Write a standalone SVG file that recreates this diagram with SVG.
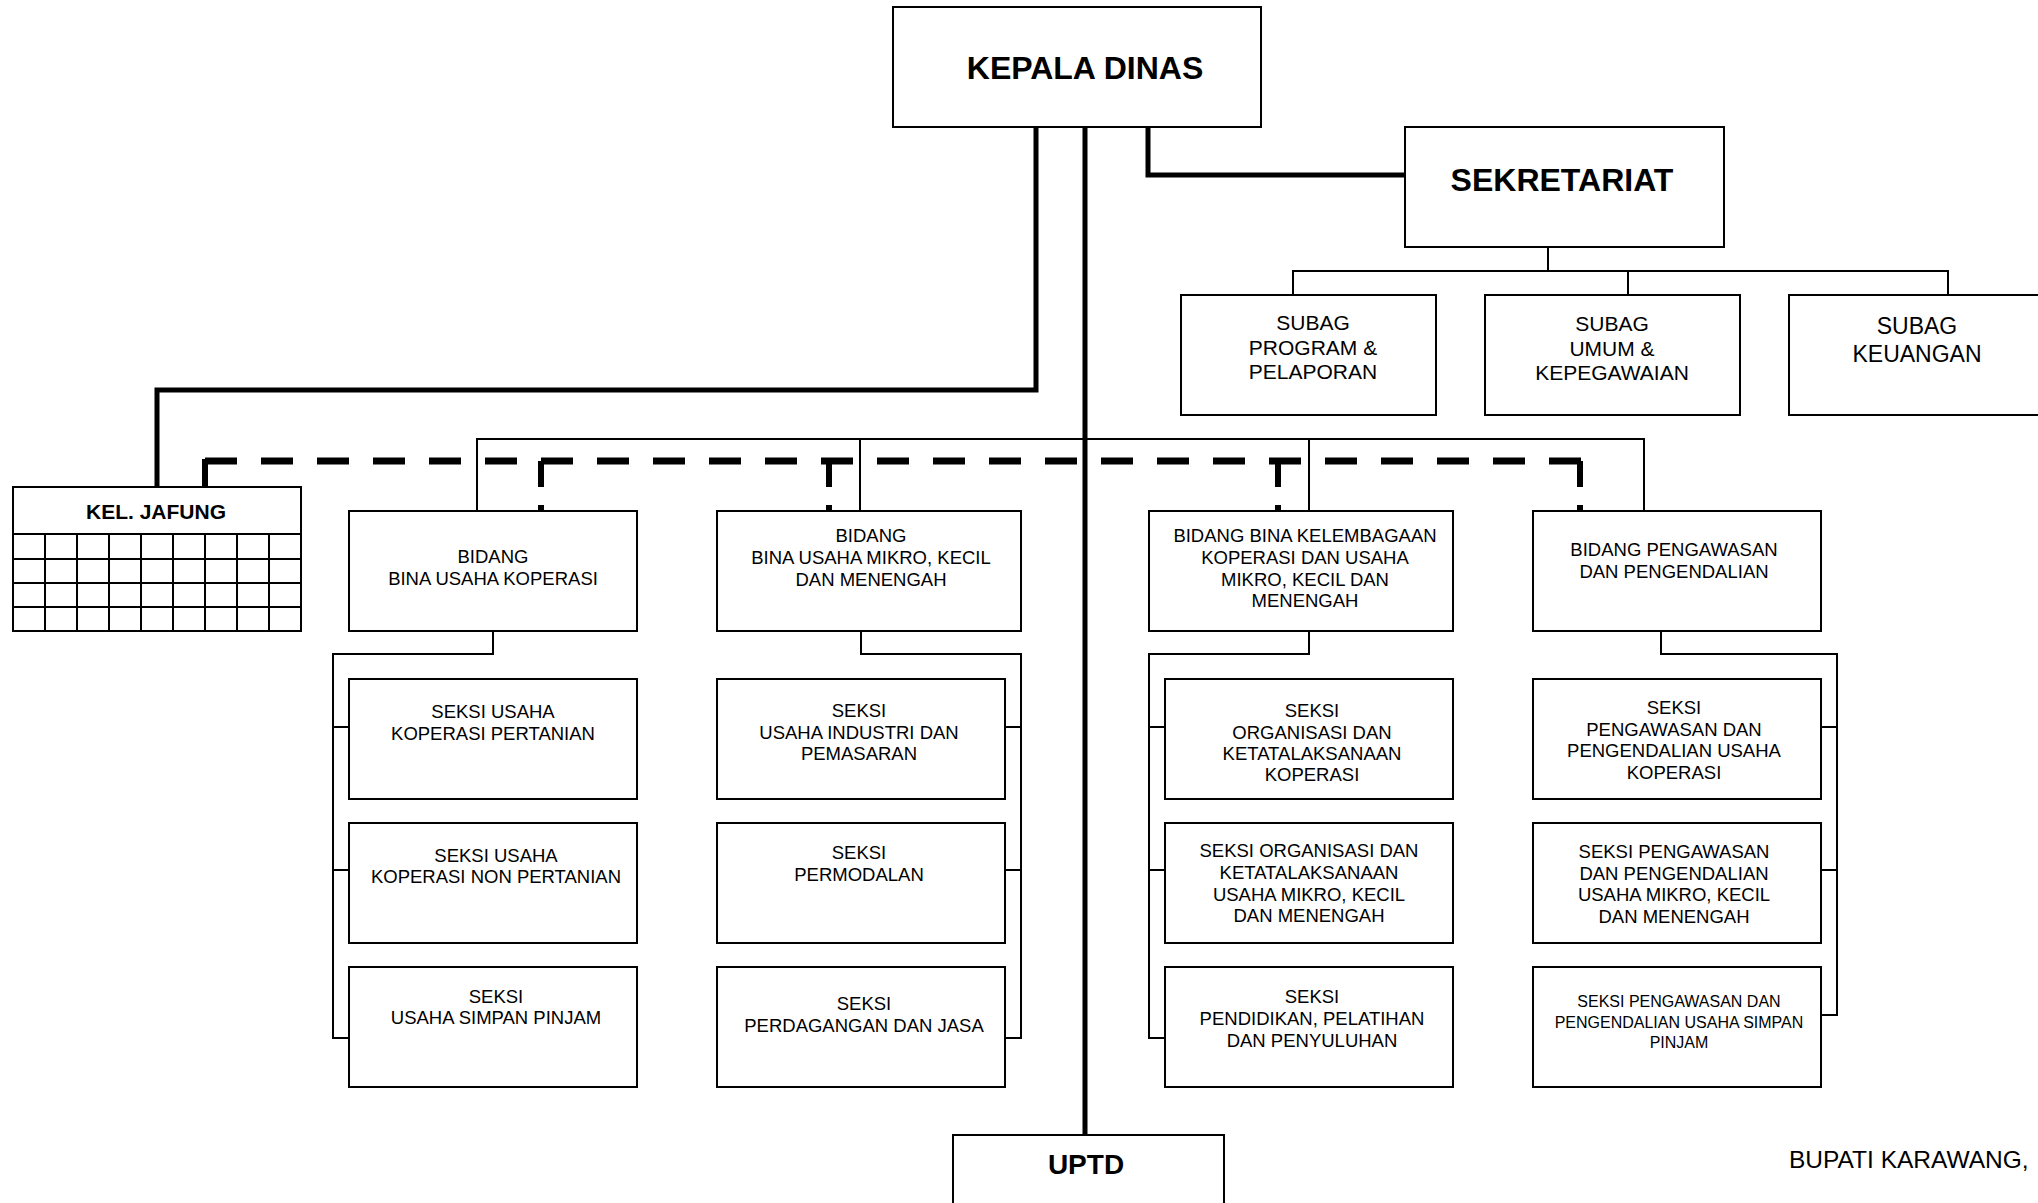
<svg xmlns="http://www.w3.org/2000/svg" width="2038" height="1203" viewBox="0 0 2038 1203">
<style>
text{font-family:"Liberation Sans",Arial,sans-serif;fill:#000;text-anchor:middle}
.b{font-weight:bold}
.box{fill:#fff;stroke:#000;stroke-width:2}
.thin{fill:none;stroke:#000;stroke-width:2}
.thick{fill:none;stroke:#000;stroke-width:5}
.dash{fill:none;stroke:#000;stroke-width:7;stroke-dasharray:32 24}
.vdash{fill:none;stroke:#000;stroke-width:6;stroke-dasharray:26 18}
.s{font-size:18.5px}
.sub{font-size:21px}
</style>
<rect width="2038" height="1203" fill="#fff"/>
<g id="connectors">
<path class="thick" d="M1036,127 V390 H157 V487"/>
<path class="thick" d="M1085,127 V1135"/>
<path class="thick" d="M1148,127 V175 H1405"/>
<path class="thin" d="M1548,247 V271"/>
<path class="thin" d="M1293,295 V271 H1948 V295"/>
<path class="thin" d="M1628,271 V295"/>
<path class="thin" d="M477,511 V439 H1644 V511"/>
<path class="thin" d="M860,439 V511"/>
<path class="thin" d="M1309,439 V511"/>
<path class="dash" d="M205,461 H1581"/>
<path class="thick" d="M205,487 V459" style="stroke-width:6"/>
<path class="vdash" d="M541,461 V511"/>
<path class="vdash" d="M829,461 V511"/>
<path class="vdash" d="M1278,461 V511"/>
<path class="vdash" d="M1580,461 V511"/>
<path class="thin" d="M493,631 V654 H333 V1038 H349 M333,727 H349 M333,870 H349"/>
<path class="thin" d="M861,631 V654 H1021 V1038 H1005 M1021,727 H1005 M1021,870 H1005"/>
<path class="thin" d="M1309,631 V654 H1149 V1038 H1165 M1149,727 H1165 M1149,870 H1165"/>
<path class="thin" d="M1661,631 V654 H1837 V1015 H1821 M1837,727 H1821 M1837,870 H1821"/>
</g>
<g id="kepala-dinas"><rect class="box" x="893" y="7" width="368" height="120"/><text class="b" x="1085" y="79" font-size="32">KEPALA DINAS</text></g>
<g id="sekretariat"><rect class="box" x="1405" y="127" width="319" height="120"/><text class="b" x="1562" y="191" font-size="32">SEKRETARIAT</text></g>
<g id="subag-program"><rect class="box" x="1181" y="295" width="255" height="120"/><text class="sub" x="1313"><tspan x="1313" y="330">SUBAG</tspan><tspan x="1313" y="354.5">PROGRAM &amp;</tspan><tspan x="1313" y="379">PELAPORAN</tspan></text></g>
<g id="subag-umum"><rect class="box" x="1485" y="295" width="255" height="120"/><text class="sub" x="1612"><tspan x="1612" y="331">SUBAG</tspan><tspan x="1612" y="355.5">UMUM &amp;</tspan><tspan x="1612" y="380">KEPEGAWAIAN</tspan></text></g>
<g id="subag-keuangan"><rect class="box" x="1789" y="295" width="260" height="120"/><text font-size="23" x="1917"><tspan x="1917" y="334">SUBAG</tspan><tspan x="1917" y="362">KEUANGAN</tspan></text></g>
<g id="kel-jafung">
<rect class="box" x="13" y="487" width="288" height="144"/>
<path class="thin" d="M13,534 H301 M13,559 H301 M13,583 H301 M13,607 H301 M45,534 V631 M77,534 V631 M109,534 V631 M141,534 V631 M173,534 V631 M205,534 V631 M237,534 V631 M269,534 V631"/>
<text class="b" x="156" y="519" font-size="21">KEL. JAFUNG</text>
</g>
<g id="bidang-koperasi"><rect class="box" x="349" y="511" width="288" height="120"/><text class="s"><tspan x="493" y="563">BIDANG</tspan><tspan x="493" y="585">BINA USAHA KOPERASI</tspan></text></g>
<g id="bidang-umkm"><rect class="box" x="717" y="511" width="304" height="120"/><text class="s"><tspan x="871" y="542">BIDANG</tspan><tspan x="871" y="564">BINA USAHA MIKRO, KECIL</tspan><tspan x="871" y="586">DAN MENENGAH</tspan></text></g>
<g id="bidang-kelembagaan"><rect class="box" x="1149" y="511" width="304" height="120"/><text class="s"><tspan x="1305" y="542">BIDANG BINA KELEMBAGAAN</tspan><tspan x="1305" y="564">KOPERASI DAN USAHA</tspan><tspan x="1305" y="586">MIKRO, KECIL DAN</tspan><tspan x="1305" y="607">MENENGAH</tspan></text></g>
<g id="bidang-pengawasan"><rect class="box" x="1533" y="511" width="288" height="120"/><text class="s"><tspan x="1674" y="556">BIDANG PENGAWASAN</tspan><tspan x="1674" y="578">DAN PENGENDALIAN</tspan></text></g>
<g id="seksi-kop-pertanian"><rect class="box" x="349" y="679" width="288" height="120"/><text class="s"><tspan x="493" y="718">SEKSI USAHA</tspan><tspan x="493" y="740">KOPERASI PERTANIAN</tspan></text></g>
<g id="seksi-kop-non-pertanian"><rect class="box" x="349" y="823" width="288" height="120"/><text class="s"><tspan x="496" y="862">SEKSI USAHA</tspan><tspan x="496" y="883">KOPERASI NON PERTANIAN</tspan></text></g>
<g id="seksi-simpan-pinjam"><rect class="box" x="349" y="967" width="288" height="120"/><text class="s"><tspan x="496" y="1003">SEKSI</tspan><tspan x="496" y="1024">USAHA SIMPAN PINJAM</tspan></text></g>
<g id="seksi-industri"><rect class="box" x="717" y="679" width="288" height="120"/><text class="s"><tspan x="859" y="717">SEKSI</tspan><tspan x="859" y="739">USAHA INDUSTRI DAN</tspan><tspan x="859" y="760">PEMASARAN</tspan></text></g>
<g id="seksi-permodalan"><rect class="box" x="717" y="823" width="288" height="120"/><text class="s"><tspan x="859" y="859">SEKSI</tspan><tspan x="859" y="881">PERMODALAN</tspan></text></g>
<g id="seksi-perdagangan"><rect class="box" x="717" y="967" width="288" height="120"/><text class="s"><tspan x="864" y="1010">SEKSI</tspan><tspan x="864" y="1032">PERDAGANGAN DAN JASA</tspan></text></g>
<g id="seksi-org-koperasi"><rect class="box" x="1165" y="679" width="288" height="120"/><text class="s"><tspan x="1312" y="717">SEKSI</tspan><tspan x="1312" y="739">ORGANISASI DAN</tspan><tspan x="1312" y="760">KETATALAKSANAAN</tspan><tspan x="1312" y="781">KOPERASI</tspan></text></g>
<g id="seksi-org-umkm"><rect class="box" x="1165" y="823" width="288" height="120"/><text class="s"><tspan x="1309" y="857">SEKSI ORGANISASI DAN</tspan><tspan x="1309" y="879">KETATALAKSANAAN</tspan><tspan x="1309" y="901">USAHA MIKRO, KECIL</tspan><tspan x="1309" y="922">DAN MENENGAH</tspan></text></g>
<g id="seksi-pendidikan"><rect class="box" x="1165" y="967" width="288" height="120"/><text class="s"><tspan x="1312" y="1003">SEKSI</tspan><tspan x="1312" y="1025">PENDIDIKAN, PELATIHAN</tspan><tspan x="1312" y="1047">DAN PENYULUHAN</tspan></text></g>
<g id="seksi-was-koperasi"><rect class="box" x="1533" y="679" width="288" height="120"/><text class="s"><tspan x="1674" y="714">SEKSI</tspan><tspan x="1674" y="736">PENGAWASAN DAN</tspan><tspan x="1674" y="757">PENGENDALIAN USAHA</tspan><tspan x="1674" y="779">KOPERASI</tspan></text></g>
<g id="seksi-was-umkm"><rect class="box" x="1533" y="823" width="288" height="120"/><text class="s"><tspan x="1674" y="858">SEKSI PENGAWASAN</tspan><tspan x="1674" y="880">DAN PENGENDALIAN</tspan><tspan x="1674" y="901">USAHA MIKRO, KECIL</tspan><tspan x="1674" y="923">DAN MENENGAH</tspan></text></g>
<g id="seksi-was-simpan-pinjam"><rect class="box" x="1533" y="967" width="288" height="120"/><text font-size="16"><tspan x="1679" y="1007">SEKSI PENGAWASAN DAN</tspan><tspan x="1679" y="1028">PENGENDALIAN USAHA SIMPAN</tspan><tspan x="1679" y="1048">PINJAM</tspan></text></g>
<g id="uptd"><rect class="box" x="953" y="1135" width="271" height="80"/><text class="b" x="1086" y="1174" font-size="28">UPTD</text></g>
<text x="1789" y="1168" font-size="24.5" style="text-anchor:start">BUPATI KARAWANG,</text>
</svg>
